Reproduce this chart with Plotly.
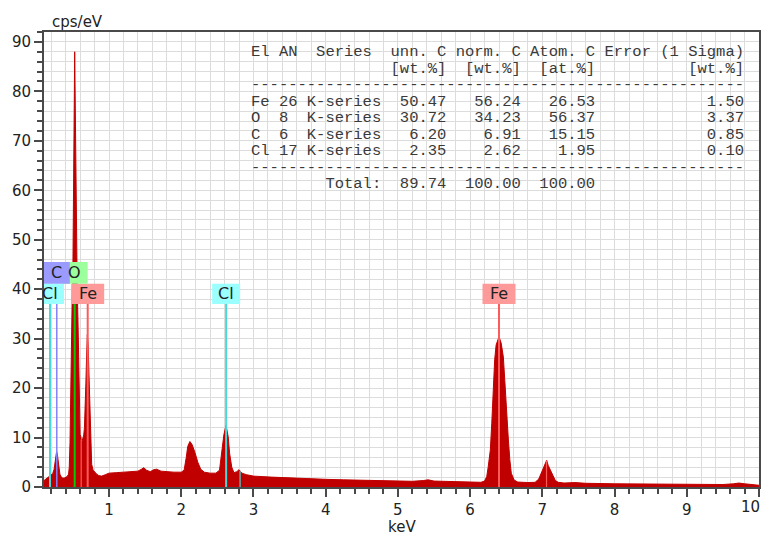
import numpy as np
import plotly.graph_objects as go

# ---- EDX spectrum (energy in keV, intensity in cps/eV) ----
energy_kev = [
    0.100, 0.120, 0.140, 0.160, 0.180, 0.200, 0.220, 0.240, 0.255, 0.265,
    0.275, 0.285, 0.295, 0.305, 0.320, 0.340, 0.360, 0.380, 0.400, 0.420,
    0.440, 0.450, 0.460, 0.470, 0.480, 0.490, 0.500, 0.510, 0.518, 0.525,
    0.532, 0.540, 0.550, 0.560, 0.570, 0.580, 0.590, 0.600, 0.610, 0.620,
    0.630, 0.640, 0.650, 0.660, 0.670, 0.680, 0.690, 0.700, 0.710, 0.720,
    0.730, 0.740, 0.750, 0.760, 0.780, 0.800, 0.830, 0.860, 0.900, 0.950,
    1.000, 1.100, 1.200, 1.300, 1.400, 1.450, 1.480, 1.520, 1.570, 1.620,
    1.660, 1.720, 1.800, 1.900, 2.000, 2.040, 2.070, 2.090, 2.120, 2.150,
    2.190, 2.230, 2.270, 2.320, 2.400, 2.480, 2.530, 2.560, 2.590, 2.620,
    2.650, 2.670, 2.700, 2.730, 2.770, 2.800, 2.840, 2.900, 3.000, 3.250,
    3.500, 3.750, 4.000, 4.250, 4.500, 4.750, 5.000, 5.200, 5.350, 5.420,
    5.500, 5.750, 6.000, 6.150, 6.200, 6.230, 6.250, 6.280, 6.300, 6.320,
    6.340, 6.360, 6.400, 6.430, 6.460, 6.480, 6.500, 6.530, 6.550, 6.570,
    6.610, 6.660, 6.800, 6.900, 6.950, 6.980, 7.000, 7.030, 7.050, 7.060,
    7.080, 7.110, 7.150, 7.180, 7.220, 7.300, 7.450, 7.600, 8.000, 8.500,
    9.000, 9.500, 9.650, 9.720, 9.800, 9.900, 10.000,
]
cps_per_ev = [
    1.3, 1.6, 1.8, 2.0, 2.2, 2.4, 2.7, 3.6, 5.0, 6.3,
    7.2, 6.6, 5.0, 3.6, 2.6, 2.0, 1.8, 1.8, 1.9, 2.1,
    2.6, 4.0, 9.0, 22.0, 33.0, 38.0, 44.0, 56.0, 76.0, 88.0,
    78.0, 58.0, 46.0, 40.0, 34.0, 27.0, 15.0, 10.6, 10.2, 9.0,
    9.4, 9.8, 10.5, 12.0, 15.5, 21.0, 26.5, 30.8, 29.0, 24.0,
    17.0, 10.5, 6.5, 4.6, 3.4, 3.0, 2.6, 2.3, 2.2, 2.5,
    2.8, 2.9, 3.0, 3.1, 3.2, 3.6, 3.9, 3.4, 3.1, 3.5,
    3.6, 3.2, 3.1, 3.0, 3.0, 3.4, 6.0, 8.2, 9.2, 8.6,
    7.0, 5.0, 3.6, 3.0, 2.8, 2.8, 3.4, 6.5, 10.5, 12.5,
    10.2, 6.8, 4.0, 2.9, 3.1, 3.5, 2.8, 2.5, 2.2, 2.0,
    1.8, 1.65, 1.55, 1.45, 1.35, 1.25, 1.2, 1.15, 1.3, 1.45,
    1.2, 1.05, 0.95, 0.95, 1.2, 2.1, 4.0, 7.5, 12.9, 19.6,
    25.7, 28.7, 30.4, 29.1, 26.3, 21.6, 15.6, 9.5, 5.5, 2.8,
    1.4, 1.0, 0.9, 0.95, 1.6, 2.6, 3.6, 4.5, 5.0, 5.4,
    4.4, 3.4, 2.2, 1.3, 0.95, 0.8, 0.9, 0.75, 0.65, 0.6,
    0.55, 0.5, 0.65, 0.8, 0.65, 0.45, 0.35,
]

# ---- identified lines ----
label_elements = ["Cl", "Fe", "Cl", "Fe", "O", "C"]
label_energies = [0.183, 0.705, 2.622, 6.400, 0.525, 0.277]
label_rows = ["low", "low", "low", "low", "high", "high"]
minor_line_energies = [0.615, 2.815, 7.058]
minor_line_elements = ["Fe", "Cl", "Fe"]

# ---- quantification table ----
q_el = ["Fe", "O", "C", "Cl"]
q_an = [26, 8, 6, 17]
q_series = ["K-series"] * 4
q_unn = [50.47, 30.72, 6.20, 2.35]
q_norm = [56.24, 34.23, 6.91, 2.62]
q_atom = [26.53, 56.37, 15.15, 1.95]
q_err = [1.50, 3.37, 0.85, 0.10]
q_total = [89.74, 100.00, 100.00]

x_ticks = list(range(1, 11))

# ---- styling ----
box_fill = {"C": "#9a9aff", "O": "#9cff9c", "Cl": "#9cffff", "Fe": "#ff9a9a"}
line_col = {"C": "#8282ff", "O": "#00cc00", "Cl": "#48d8d8", "Fe": "#ff5a5a"}
box_width = {"C": 26, "O": 26, "Cl": 28, "Fe": 33}
row_span = {"high": (41.1, 45.5), "low": (37.0, 41.1)}
AX = "#4a4a4a"
GRID = "#dcdcdc"
TXT = "#222222"
TICKFONT = dict(family="DejaVu Sans", size=15, color=TXT)

fig = go.Figure()
fig.add_trace(go.Scatter(
    x=energy_kev, y=cps_per_ev, mode="lines", fill="tozeroy",
    line=dict(color="#c00000", width=1), fillcolor="#c00000",
    hoverinfo="skip", showlegend=False,
))

shapes = []
annotations = []

# white panel behind the results table
shapes.append(dict(type="rect", xref="paper", yref="paper",
                   x0=(245 - 44) / 715, x1=(744 - 44) / 715,
                   y0=(487 - 189) / 455, y1=(487 - 40) / 455,
                   fillcolor="white", line=dict(width=0), layer="between"))

# marker lines for the identified peaks
for el, e, row in zip(label_elements, label_energies, label_rows):
    shapes.append(dict(type="line", xref="x", yref="y", x0=e, x1=e,
                       y0=0, y1=row_span[row][0],
                       line=dict(color=line_col[el], width=2 if el != "C" else 1.5)))
for el, e in zip(minor_line_elements, minor_line_energies):
    h = float(np.interp(e, energy_kev, cps_per_ev))
    shapes.append(dict(type="line", xref="x", yref="y", x0=e, x1=e,
                       y0=0, y1=h, line=dict(color=line_col[el], width=1.2)))

# element tags: coloured box (clipped to the plot area) plus its text
for el, e, row in zip(label_elements, label_energies, label_rows):
    w = box_width[el]
    y0, y1 = row_span[row]
    shapes.append(dict(type="rect", xref="x", yref="y", xsizemode="pixel",
                       xanchor=e, x0=-w / 2, x1=w / 2, y0=y0, y1=y1,
                       fillcolor=box_fill[el], line=dict(width=0)))
    annotations.append(dict(text=el, xref="x", yref="y", x=e, y=(y0 + y1) / 2,
                            xanchor="center", yanchor="middle", showarrow=False,
                            font=dict(family="DejaVu Sans", size=16, color=TXT)))

# results table as monospaced lines
def nb(s):
    return s.replace(" ", "\u00a0")

table_lines = [
    "El AN  Series  unn. C norm. C Atom. C Error (1 Sigma)",
    " " * 15 + "[wt.%]  [wt.%]  [at.%]" + " " * 10 + "[wt.%]",
    "-" * 53,
]
for el, an, se, u, n, a, er in zip(q_el, q_an, q_series, q_unn, q_norm, q_atom, q_err):
    table_lines.append(f"{el:<3}{an:<3}{se}{u:>7.2f}{n:>8.2f}{a:>8.2f}{er:>16.2f}")
table_lines.append("-" * 53)
table_lines.append(" " * 8 + "Total:" + f"{q_total[0]:>7.2f}{q_total[1]:>8.2f}{q_total[2]:>8.2f}")

for i, t in enumerate(table_lines):
    py = 52.3 + 16.5 * i
    annotations.append(dict(text=nb(t), xref="paper", yref="paper",
                            x=(249 - 44) / 715, y=(487 - py) / 455,
                            xanchor="left", yanchor="middle", showarrow=False,
                            font=dict(family="Liberation Mono", size=15.5, color="#3a3a3a")))

annotations.append(dict(text="cps/eV", xref="paper", yref="paper",
                        x=(50 - 44) / 715, y=(487 - 22) / 455,
                        xanchor="left", yanchor="middle", showarrow=False,
                        font=dict(family="DejaVu Sans", size=15, color=TXT)))
annotations.append(dict(text="keV", xref="paper", yref="paper",
                        x=0.5, y=(487 - 527) / 455,
                        xanchor="center", yanchor="middle", showarrow=False,
                        font=dict(family="DejaVu Sans", size=15, color=TXT)))

# the last energy tick sits on the right border, so its label is pulled inside
x_ticktext = [str(v) for v in x_ticks]
last_label = x_ticktext[-1]
x_ticktext[-1] = ""
annotations.append(dict(text=last_label, xref="x", yref="paper",
                        x=x_ticks[-1], y=(487 - 507) / 455, xshift=3,
                        xanchor="right", yanchor="middle", showarrow=False,
                        font=TICKFONT))

fig.update_layout(
    width=763, height=535,
    margin=dict(l=44, r=4, t=32, b=48, autoexpand=False),
    paper_bgcolor="white", plot_bgcolor="white",
    showlegend=False,
    shapes=shapes, annotations=annotations,
    xaxis=dict(
        range=[0.1, 10.0], tickmode="array", tickvals=x_ticks, ticktext=x_ticktext,
        ticks="outside", ticklen=8, tickwidth=1.5, tickcolor=AX,
        automargin=False,
        showline=True, linecolor=AX, linewidth=2, mirror=True,
        showgrid=True, gridcolor=GRID, gridwidth=1, zeroline=False,
        tickfont=TICKFONT,
        minor=dict(tickmode="linear", tick0=0, dtick=0.2, ticks="outside", ticklen=5,
                   tickwidth=1.5, tickcolor=AX, showgrid=True, gridcolor=GRID, gridwidth=1),
    ),
    yaxis=dict(
        range=[0, 92], tickmode="linear", tick0=0, dtick=10,
        ticks="outside", ticklen=8, tickwidth=1.5, tickcolor=AX,
        automargin=False,
        showline=True, linecolor=AX, linewidth=2, mirror=True,
        showgrid=True, gridcolor=GRID, gridwidth=1, zeroline=False,
        tickfont=TICKFONT,
        minor=dict(tickmode="linear", tick0=0, dtick=2, ticks="outside", ticklen=5,
                   tickwidth=1.5, tickcolor=AX, showgrid=True, gridcolor=GRID, gridwidth=1),
    ),
)

fig.write_html("out.html")
